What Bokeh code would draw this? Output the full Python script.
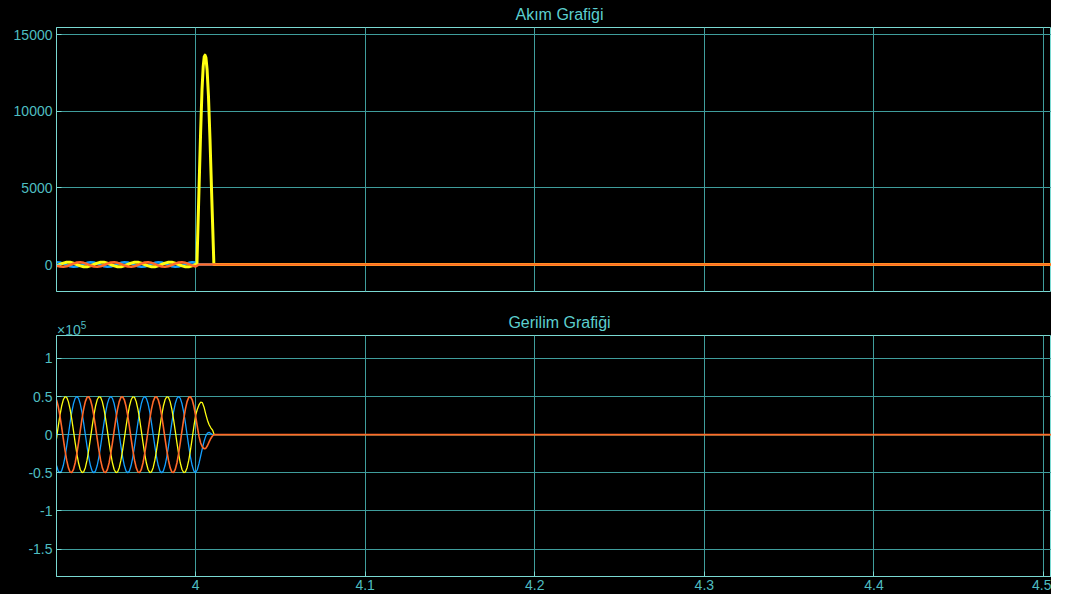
import numpy as np
from bokeh.plotting import figure
from bokeh.layouts import column
from bokeh.models import FixedTicker, Range1d, Div, CustomJSTickFormatter
from bokeh.embed import file_html
from bokeh.resources import INLINE

# ---------------- data ----------------
x_ticks = [4.0, 4.1, 4.2, 4.3, 4.4, 4.5]
i_ticks = [0, 5000, 10000, 15000]
v_ticks = [-150000, -100000, -50000, 0, 50000, 100000]

title_i = "Akım Grafiği"
title_v = "Gerilim Grafiği"

# current samples every 2 ms from 3.918 s to 4.000 s
t_cur = np.round(3.918 + 0.002 * np.arange(42), 3).tolist()
i_yellow_pre = [-88,
                0, 88, 143, 143, 88, 0, -88, -143, -143, -88,
                0, 88, 143, 143, 88, 0, -88, -143, -143, -88,
                0, 88, 143, 143, 88, 0, -88, -143, -143, -88,
                0, 88, 143, 143, 88, 0, -88, -143, -143, -88,
                0]
i_blue_pre = [149,
              130, 61, -31, -111, -149, -130, -61, 31, 111, 149,
              130, 61, -31, -111, -149, -130, -61, 31, 111, 149,
              130, 61, -31, -111, -149, -130, -61, 31, 111, 149,
              130, 61, -31, -111, -149, -130, -61, 31, 111, 149,
              130]
i_orange_pre = [-61,
                -130, -149, -111, -31, 61, 130, 149, 111, 31, -61,
                -130, -149, -111, -31, 61, 130, 149, 111, 31, -61,
                -130, -149, -111, -31, 61, 130, 149, 111, 31, -61,
                -130, -149, -111, -31, 61, 130, 149, 111, 31, -61,
                -130]
# yellow current spike after 4.0 s
t_spike = [4.0008, 4.0020, 4.0030, 4.0038, 4.0045, 4.0051, 4.0056, 4.0061,
           4.0068, 4.0076, 4.0085, 4.0096, 4.0108, 4.52]
i_spike = [0, 4800, 8700, 11400, 12900, 13550, 13650, 13500,
           12700, 11000, 8200, 4200, 0, 0]
t_cur_post = [4.002, 4.52]
i_zero_post = [0, 0]

# voltage samples every 1 ms from 3.918 s to 4.012 s, then 4.52 s
t_volt = np.round(3.918 + 0.001 * np.arange(95), 3).tolist() + [4.52]
v_yellow = [-5200, 10400,
            25000, 37200, 45700, 49700, 48900, 43300, 33500, 20300, 5200, -10400,
            -25000, -37200, -45700, -49700, -48900, -43300, -33500, -20300, -5200, 10400,
            25000, 37200, 45700, 49700, 48900, 43300, 33500, 20300, 5200, -10400,
            -25000, -37200, -45700, -49700, -48900, -43300, -33500, -20300, -5200, 10400,
            25000, 37200, 45700, 49700, 48900, 43300, 33500, 20300, 5200, -10400,
            -25000, -37200, -45700, -49700, -48900, -43300, -33500, -20300, -5200, 10400,
            25000, 37200, 45700, 49700, 48900, 43300, 33500, 20300, 5200, -10400,
            -25000, -37200, -45700, -49700, -48900, -43300, -33500, -20300, -5200, 10400,
            25000,
            33000, 39000, 42500, 42000, 36000, 27000, 19000, 13000, 9000, 6000, 0,
            0, 0]
v_blue = [-40500, -47600,
          -50000, -47600, -40500, -29400, -15500, 0, 15500, 29400, 40500, 47600,
          50000, 47600, 40500, 29400, 15500, 0, -15500, -29400, -40500, -47600,
          -50000, -47600, -40500, -29400, -15500, 0, 15500, 29400, 40500, 47600,
          50000, 47600, 40500, 29400, 15500, 0, -15500, -29400, -40500, -47600,
          -50000, -47600, -40500, -29400, -15500, 0, 15500, 29400, 40500, 47600,
          50000, 47600, 40500, 29400, 15500, 0, -15500, -29400, -40500, -47600,
          -50000, -47600, -40500, -29400, -15500, 0, 15500, 29400, 40500, 47600,
          50000, 47600, 40500, 29400, 15500, 0, -15500, -29400, -40500, -47600,
          -50000,
          -46000, -38000, -28000, -18000, -9000, -2000, 2000, 3000, 1500, 0, 0,
          0, 0]
v_orange = [45700, 37200,
            25000, 10400, -5200, -20300, -33500, -43300, -48900, -49700, -45700, -37200,
            -25000, -10400, 5200, 20300, 33500, 43300, 48900, 49700, 45700, 37200,
            25000, 10400, -5200, -20300, -33500, -43300, -48900, -49700, -45700, -37200,
            -25000, -10400, 5200, 20300, 33500, 43300, 48900, 49700, 45700, 37200,
            25000, 10400, -5200, -20300, -33500, -43300, -48900, -49700, -45700, -37200,
            -25000, -10400, 5200, 20300, 33500, 43300, 48900, 49700, 45700, 37200,
            25000, 10400, -5200, -20300, -33500, -43300, -48900, -49700, -45700, -37200,
            -25000, -10400, 5200, 20300, 33500, 43300, 48900, 49700, 45700, 37200,
            25000,
            11000, -2000, -11000, -16000, -18500, -18000, -14500, -9500, -5000, -1500, 0,
            0, 0]

# ---------------- style ----------------
AX = "#7ad9d2"
GRID = "#3f9d9c"
TXT = "#4fbec1"
TITLE_C = "#5ccfcf"
YELLOW = "#ffff11"
BLUE = "#139fff"
ORANGE = "#ff6929"
FONT = "Liberation Sans"
W = 1051

X0, X1 = 3.918, 4.5047


def style(p, yticks):
    p.background_fill_color = "black"
    p.border_fill_color = "black"
    p.outline_line_color = AX
    p.outline_line_width = 1
    p.xgrid.ticker = FixedTicker(ticks=x_ticks)
    p.ygrid.ticker = FixedTicker(ticks=yticks)
    for g in (p.xgrid, p.ygrid):
        g.grid_line_color = GRID
        g.grid_line_width = 1
    p.yaxis.ticker = FixedTicker(ticks=yticks)
    p.xaxis.ticker = FixedTicker(ticks=x_ticks)
    for ax in (p.xaxis, p.yaxis):
        ax.axis_line_color = AX
        ax.major_tick_line_color = AX
        ax.major_tick_in = 5
        ax.major_tick_out = 0
        ax.minor_tick_line_color = None
        ax.major_label_text_color = TXT
        ax.major_label_text_font = FONT
        ax.major_label_text_font_size = "14px"
    p.yaxis.major_label_standoff = 4


txt_style = ("position:absolute;font-family:'Liberation Sans',Arial,sans-serif;"
             "color:%s;white-space:nowrap;" % TITLE_C)

div1 = Div(text=('<div style="position:relative;width:%dpx;height:26px;">'
                 '<span style="%sleft:56px;width:1007px;text-align:center;top:6px;'
                 'font-size:16px;line-height:18px;">%s</span></div>') % (W, txt_style, title_i),
           width=W, height=26, margin=0, styles={"background-color": "black"})

p1 = figure(width=W, height=266, x_range=Range1d(X0, X1), y_range=Range1d(-1760, 15456),
            output_backend="svg", toolbar_location=None, margin=0,
            min_border_left=56, min_border_right=0, min_border_top=1, min_border_bottom=1)
style(p1, i_ticks)
p1.xaxis.visible = False

p1.line(t_cur + t_cur_post, i_blue_pre + i_zero_post, line_color=BLUE, line_width=2.5, line_join="round")
p1.line(t_cur + t_spike, i_yellow_pre + i_spike, line_color=YELLOW, line_width=3, line_join="round")
p1.line(t_cur + t_cur_post, i_orange_pre + i_zero_post, line_color=ORANGE, line_width=2.5, line_join="round")

div2 = Div(text=('<div style="position:relative;width:%dpx;height:42px;">'
                 '<span style="%sleft:56px;width:1007px;text-align:center;top:22px;'
                 'font-size:16px;line-height:18px;">%s</span>'
                 '<span style="%sleft:57px;top:26px;font-size:14px;line-height:16px;color:%s;">'
                 '×10<sup style="font-size:10px;">5</sup></span></div>')
           % (W, txt_style, title_v, txt_style, TXT),
           width=W, height=42, margin=0, styles={"background-color": "black"})

p2 = figure(width=W, height=260, x_range=p1.x_range, y_range=Range1d(-186000, 130000),
            output_backend="svg", toolbar_location=None, margin=0,
            min_border_left=56, min_border_right=0, min_border_top=1, min_border_bottom=18)
style(p2, v_ticks)
p2.yaxis.formatter = CustomJSTickFormatter(code="return String(Math.round(tick/1e4)/10);")
p2.xaxis.formatter = CustomJSTickFormatter(code="return String(Number(tick.toFixed(1)));")
p2.xaxis.major_label_standoff = 3

p2.line(t_volt, v_blue, line_color=BLUE, line_width=1.3)
p2.line(t_volt, v_yellow, line_color=YELLOW, line_width=1.3)
p2.line(t_volt, v_orange, line_color=ORANGE, line_width=1.6)

layout = column(div1, p1, div2, p2, spacing=0, margin=0, styles={"background-color": "black"})
open("out.html", "w").write(file_html(layout, INLINE))
